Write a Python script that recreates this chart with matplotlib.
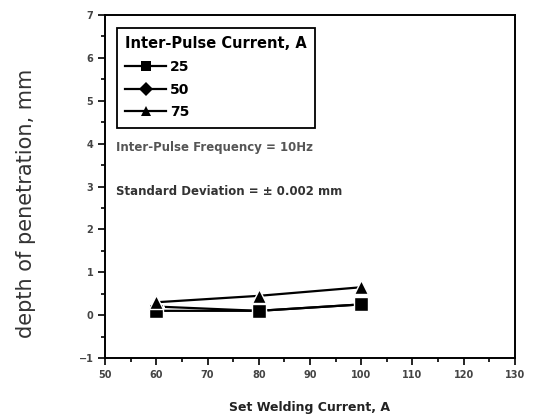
import numpy as np
import matplotlib.pyplot as plt
from matplotlib.ticker import MultipleLocator

current = [60, 80, 100]
depth_25 = [0.1, 0.1, 0.25]
depth_50 = [0.2, 0.1, 0.25]
depth_75 = [0.3, 0.45, 0.65]
labels = ['25', '50', '75']
markers = ['s', 'D', '^']

fig = plt.figure(figsize=(5.34, 4.17), dpi=100)
ax = fig.add_axes([0.197, 0.1415, 0.767, 0.8225])

for y, lab, m, z in zip([depth_25, depth_50, depth_75], labels, markers, [3, 2, 4]):
    ms = 8 if m == 'D' else 10
    ax.plot(current, y, color='black', linewidth=1.6, marker=m, markersize=ms,
            markeredgecolor='white', markeredgewidth=1.0, label=lab, zorder=z)

ax.set_xlim(50, 130)
ax.set_ylim(-1, 7)
ax.xaxis.set_major_locator(MultipleLocator(10))
ax.xaxis.set_minor_locator(MultipleLocator(5))
ax.yaxis.set_major_locator(MultipleLocator(1))
ax.yaxis.set_minor_locator(MultipleLocator(0.5))
ax.tick_params(which='both', direction='out', top=False, right=False, width=1.2,
               labelsize=7, labelcolor='#444444')
ax.tick_params(which='major', length=5)
ax.tick_params(which='minor', length=3)
for lbl in ax.get_xticklabels() + ax.get_yticklabels():
    lbl.set_fontweight('bold')
for s in ax.spines.values():
    s.set_linewidth(1.4)

ax.set_xlabel('Set Welding Current, A', fontsize=9, fontweight='bold', color='#222222', labelpad=15)
ax.set_ylabel('depth of penetration, mm', fontsize=15, color='#333333')
ax.yaxis.set_label_coords(-0.17, 0.45)

leg = ax.legend(loc='upper left', bbox_to_anchor=(0.029, 0.962), title='Inter-Pulse Current, A',
                fancybox=False, framealpha=1, edgecolor='black', borderaxespad=0,
                handlelength=2.9, handletextpad=0.3, labelspacing=0.62, borderpad=0.6,
                fontsize=10, alignment='left',
                title_fontproperties={'weight': 'bold', 'size': 10.5})
leg.get_frame().set_linewidth(1.3)
for t in leg.get_texts():
    t.set_fontweight('bold')
for h in leg.legend_handles:
    h.set_markeredgewidth(0)
    h.set_markersize(7)

ax.text(0.027, 0.615, 'Inter-Pulse Frequency = 10Hz', transform=ax.transAxes, fontsize=8.5,
        fontweight='bold', color='#555555', va='center')
ax.text(0.027, 0.484, 'Standard Deviation = \u00b1 0.002 mm', transform=ax.transAxes, fontsize=8.5,
        fontweight='bold', color='#333333', va='center')

plt.savefig('out.png', dpi=100)
